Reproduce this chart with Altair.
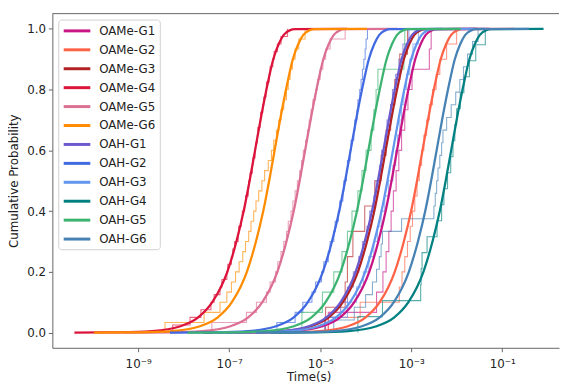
import altair as alt
import pandas as pd

series = ["OAMe-G1", "OAMe-G2", "OAMe-G3", "OAMe-G4", "OAMe-G5", "OAMe-G6",
          "OAH-G1", "OAH-G2", "OAH-G3", "OAH-G4", "OAH-G5", "OAH-G6"]
colors = ["#C71585", "#FF6347", "#B22222", "#DC143C", "#DB7093", "#FF8C00",
          "#6A5ACD", "#4169E1", "#6495ED", "#008080", "#3CB371", "#4682B4"]

# fitted curves: median (log10 s) and width factor
fit_median = [-3.43, -2.87, -3.68, -6.55, -5.45, -6.12, -3.73, -4.45, -3.52, -2.24, -4.06, -2.56]
fit_width = [1.0, 1.0, 1.0, 1.0, 1.0, 1.0, 1.0, 1.0, 1.0, 1.0, 1.0, 1.0]
# shape of the fitted curve: cumulative level vs. offset (decades) from the median
fit_levels = [0.0, 0.001, 0.005, 0.02, 0.05, 0.1, 0.2, 0.3, 0.4, 0.5, 0.6, 0.7,
              0.8, 0.9, 0.95, 0.98, 0.995, 0.999, 1.0]
fit_offsets = [-3.85, -2.84, -2.14, -1.54, -1.13, -0.82, -0.49, -0.29, -0.13, 0.0, 0.12, 0.24,
               0.37, 0.52, 0.64, 0.75, 0.88, 1.00, 2.15]

# empirical samples (log10 of time in s)
s_oame_g1 = [-4.82, -3.76, -3.62, -3.55, -3.49, -3.44, -3.39, -3.33, -3.27, -3.21, -3.14, -3.07,
             -2.98, -2.60, -2.56]
s_oame_g2 = [-4.82, -4.12, -3.26, -3.20, -3.14, -3.08, -3.02, -2.97, -2.92, -2.87, -2.82, -2.77,
             -2.72, -2.66, -2.60, -2.53, -2.45, -2.37, -2.22, -2.00]
s_oame_g3 = [-4.88, -4.45, -4.40, -4.28, -4.02, -3.80, -3.66, -3.55, -3.45, -3.36, -3.25, -3.08]
s_oame_g4 = [-8.24, -7.86, -7.62, -7.40, -7.33, -7.20, -7.16, -7.05, -7.03, -6.95, -6.92, -6.88,
             -6.80, -6.79, -6.73, -6.71, -6.66, -6.64, -6.58, -6.57, -6.54, -6.49, -6.48, -6.43,
             -6.42, -6.38, -6.37, -6.32, -6.31, -6.26, -6.24, -6.19, -6.18, -6.12, -6.10, -6.04,
             -6.01, -5.94, -5.86, -5.72]
s_oame_g5 = [-7.38, -6.62, -6.40, -6.18, -6.10, -5.98, -5.93, -5.86, -5.80, -5.74, -5.70, -5.64,
             -5.60, -5.55, -5.50, -5.45, -5.41, -5.37, -5.32, -5.28, -5.24, -5.20, -5.16, -5.10,
             -5.06, -5.00, -4.94, -4.88, -4.78, -4.45]
s_oame_g6 = [-8.41, -7.55, -7.20, -7.05, -6.95, -6.86, -6.78, -6.70, -6.64, -6.57, -6.52, -6.46,
             -6.41, -6.35, -6.28, -6.22, -6.14, -6.07, -6.02, -5.96, -5.91, -5.86, -5.80, -5.74,
             -5.70, -5.66, -5.61, -5.55, -5.47, -5.33]
s_oah_g1 = [-4.90, -4.55, -4.40, -4.27, -4.15, -4.07, -3.97, -3.91, -3.82, -3.77, -3.69, -3.65,
            -3.57, -3.53, -3.45, -3.41, -3.34, -3.27, -3.18, -3.05]
s_oah_g2 = [-5.95, -5.55, -5.38, -5.18, -5.10, -4.97, -4.92, -4.82, -4.78, -4.70, -4.67, -4.60,
            -4.57, -4.50, -4.48, -4.42, -4.40, -4.34, -4.32, -4.26, -4.24, -4.19, -4.17, -4.13,
            -4.10, -4.07, -4.04, -4.01, -3.99, -3.96]
s_oah_g3 = [-4.90, -4.40, -4.20, -4.05, -3.93, -3.82, -3.74, -3.66, -3.58, -3.50, -3.40, -3.34,
            -3.30, -3.25, -3.21, -3.16, -3.10, -3.03, -2.96, -2.84]
s_oah_g4 = [-4.17, -3.63, -2.79, -2.78, -2.76, -2.65, -2.43, -2.33, -2.28, -2.20, -2.13, -2.08,
            -2.04, -2.00, -1.92, -1.84, -1.72, -1.58, -1.37]
s_oah_g5 = [-5.40, -4.95, -4.70, -4.52, -4.40, -4.30, -4.17, -4.08, -3.99, -3.88, -3.82, -3.77,
            -3.73, -3.16, -3.14]
s_oah_g6 = [-4.70, -4.25, -4.00, -3.85, -3.76, -3.70, -3.66, -3.63, -3.21, -2.50, -2.47, -2.44,
            -2.41, -2.37, -2.33, -2.30, -2.22, -2.12, -2.02, -1.93, -1.85, -1.76, -1.65, -1.53]
samples = [s_oame_g1, s_oame_g2, s_oame_g3, s_oame_g4, s_oame_g5, s_oame_g6,
           s_oah_g1, s_oah_g2, s_oah_g3, s_oah_g4, s_oah_g5, s_oah_g6]

x_ticks = [1e-9, 1e-7, 1e-5, 1e-3, 1e-1]
y_ticks = [0.0, 0.2, 0.4, 0.6, 0.8, 1.0]

fit_rows = []
for name, m, w in zip(series, fit_median, fit_width):
    for i, (lv, off) in enumerate(zip(fit_levels, fit_offsets)):
        fit_rows.append({"series": name, "t": 10 ** (m + w * off), "p": lv, "idx": i})
fit_df = pd.DataFrame(fit_rows)

step_rows = []
for name, s in zip(series, samples):
    vals = sorted(s)
    n = len(vals)
    step_rows.append({"series": name, "t": 10 ** vals[0], "p": 0.0, "idx": 0})
    for i, v in enumerate(vals, start=1):
        step_rows.append({"series": name, "t": 10 ** v, "p": i / n, "idx": i})
step_df = pd.DataFrame(step_rows)

FONT = "DejaVu Sans"
AX = "#666666"
TXT = "#222222"

x_scale = alt.Scale(type="log", domain=[10 ** -10.885, 10 ** 0.25], nice=False)
y_scale = alt.Scale(domain=[-0.05, 1.05], nice=False, zero=False)
c_scale = alt.Scale(domain=series, range=colors)

label_expr = ("datum.value < 5e-9 ? '10⁻⁹' : datum.value < 5e-7 ? '10⁻⁷' : "
              "datum.value < 5e-5 ? '10⁻⁵' : datum.value < 5e-3 ? '10⁻³' : '10⁻¹'")

x_axis = alt.Axis(values=x_ticks, labelExpr=label_expr, title="Time(s)", grid=False,
                  tickSize=4, tickColor=AX, domainColor=AX, labelColor=TXT, titleColor=TXT,
                  labelFont=FONT, titleFont=FONT, labelFontSize=12, titleFontSize=12,
                  titleFontWeight="normal", labelPadding=7, titlePadding=2, titleX=260,
                  labelFlush=False)
y_axis = alt.Axis(values=y_ticks, format=".1f", title="Cumulative Probability", grid=False,
                  tickSize=4, tickColor=AX, domainColor=AX, labelColor=TXT, titleColor=TXT,
                  labelFont=FONT, titleFont=FONT, labelFontSize=12, titleFontSize=12,
                  titleFontWeight="normal", labelPadding=3, titlePadding=6)

steps = alt.Chart(step_df).mark_line(interpolate="step-after", strokeWidth=1.1, opacity=0.65).encode(
    x=alt.X("t:Q", scale=x_scale, axis=x_axis),
    y=alt.Y("p:Q", scale=y_scale, axis=y_axis),
    color=alt.Color("series:N", scale=c_scale, sort=series, legend=None),
    order=alt.Order("idx:Q"),
)

fits = alt.Chart(fit_df).mark_line(interpolate="monotone", strokeWidth=2.3).encode(
    x=alt.X("t:Q", scale=x_scale, axis=x_axis),
    y=alt.Y("p:Q", scale=y_scale, axis=y_axis),
    color=alt.Color("series:N", scale=c_scale, sort=series,
                    legend=alt.Legend(title=None, orient="none", legendX=6, legendY=6,
                                      symbolType="M-2.25,0L2.25,0", symbolSize=144,
                                      symbolStrokeWidth=3, symbolOffset=7.5,
                                      labelFont=FONT, labelFontSize=12, labelColor=TXT,
                                      labelOffset=15, rowPadding=5.2, padding=4,
                                      strokeColor="#d0d0d0", fillColor="rgba(255,255,255,0.8)",
                                      cornerRadius=3, symbolOpacity=1)),
    order=alt.Order("idx:Q"),
)

top = alt.Chart(pd.DataFrame({"v": [1.05]})).mark_rule(color=AX, strokeWidth=1).encode(
    y=alt.Y("v:Q", scale=y_scale, axis=y_axis)
)

chart = alt.layer(steps, fits, top).resolve_legend(color="independent").properties(
    width=514, height=339,
    padding={"left": 45, "top": 3, "right": 1, "bottom": 33},
    autosize=alt.AutoSizeParams(type="none"),
    background="white",
).configure_view(stroke=None)

chart.save("out.html", embed_options={"renderer": "svg", "actions": False})
